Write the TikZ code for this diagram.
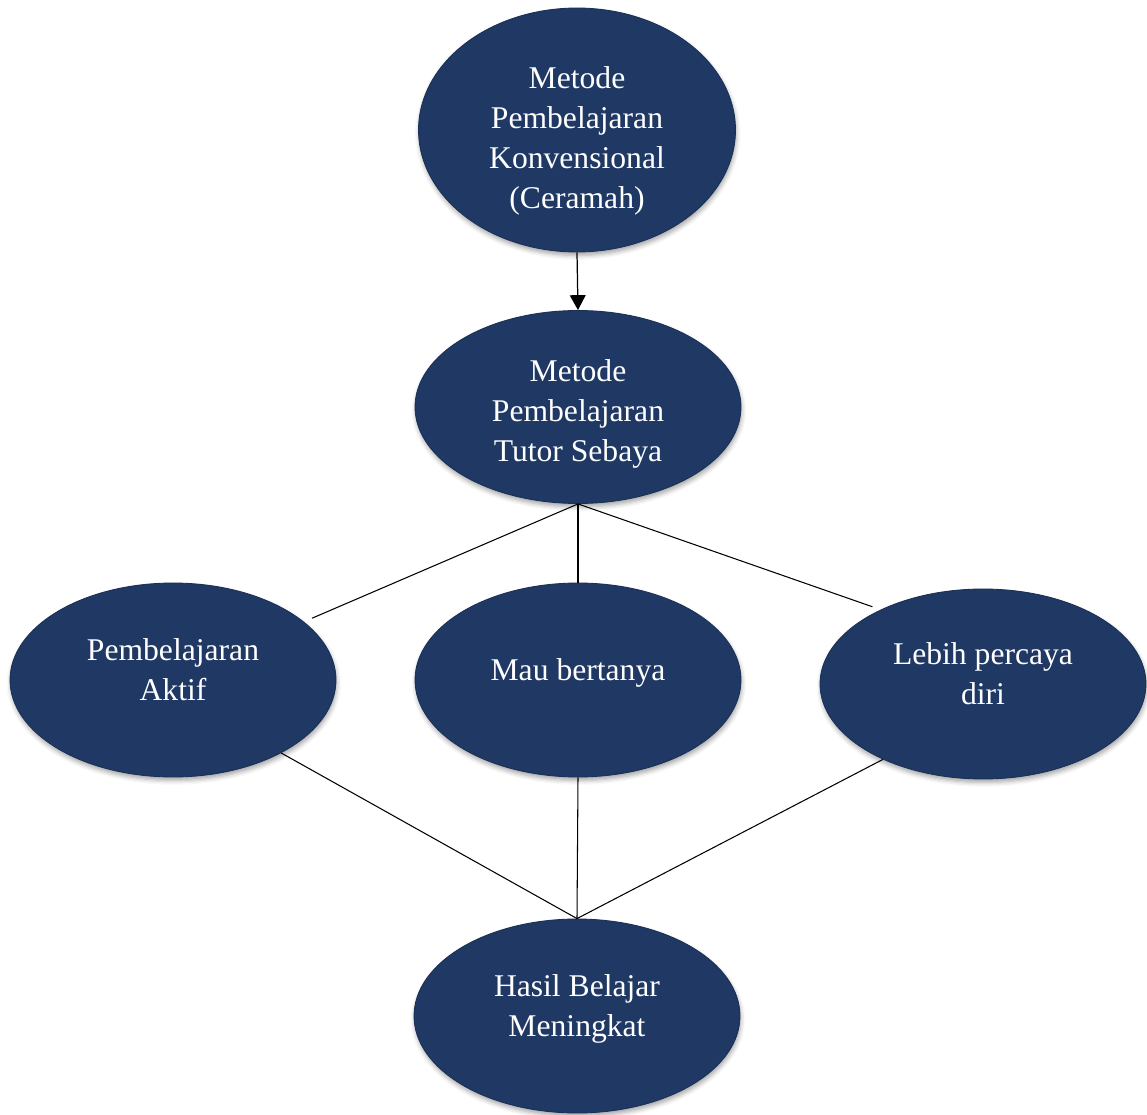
\documentclass[tikz,border=0pt]{standalone}
\usepackage{fontspec}
\setmainfont{Liberation Serif}
\usepackage{tikz}
\usetikzlibrary{shapes.geometric, arrows.meta, shadows.blur}
\definecolor{navy}{HTML}{1F3864}
\newcommand{\bubbletext}[2][0pt]{\raisebox{#1}[0pt][0pt]{\begin{tabular}{@{}c@{}}#2\end{tabular}}}
\tikzset{
    bubble/.style={ellipse, minimum width=6.52cm, minimum height=3.88cm, inner sep=0pt, draw=navy!85!black, line width=0.5pt, fill=navy, text=white, font=\fontsize{18}{22.8}\selectfont, blur shadow={shadow xshift=0.5pt, shadow yshift=-2pt, shadow blur radius=2.5pt, shadow opacity=35}},
    link/.style={black, line width=0.6pt},
    arrow/.style={black, line width=0.7pt, -{Triangle[length=8.5pt, width=9pt]}}
}
\begin{document}
\begin{tikzpicture}[x=0.02cm, y=-0.02cm]
    % Canvas
    \useasboundingbox (0,0) rectangle (1147,1115);

    % Teaching methods
    \node[bubble, minimum width=6.34cm, minimum height=4.88cm] (konv) at (577,130) {\bubbletext[-0.36cm]{Metode\\Pembelajaran\\Konvensional\\(Ceramah)}};
    \node[bubble, minimum height=3.86cm] (tutor) at (578,407) {\bubbletext[-0.28cm]{Metode\\Pembelajaran\\Tutor Sebaya}};

    % Effects of peer tutoring
    \node[bubble] (aktif) at (173,680) {\bubbletext{Pembelajaran\\Aktif}};
    \node[bubble] (tanya) at (578,680) {\bubbletext{Mau bertanya}};
    \node[bubble, minimum height=3.8cm] (diri) at (983,684) {\bubbletext{Lebih percaya\\diri}};

    % Result
    \node[bubble] (hasil) at (577,1016) {\bubbletext{Hasil Belajar\\Meningkat}};

    % Connectors
    \draw[arrow] (konv.south) -- (tutor.north);
    \draw[link, shorten >=5pt] (tutor.south) -- (aktif.24);
    \draw[link] (tutor.south) -- (tanya.north);
    \draw[link, shorten >=5pt] (tutor.south) -- (diri.144);
    \draw[link] (aktif.-34) -- (hasil.north);
    \draw[link] (tanya.south) -- (hasil.north);
    \draw[link] (diri.217) -- (hasil.north);
\end{tikzpicture}
\end{document}
